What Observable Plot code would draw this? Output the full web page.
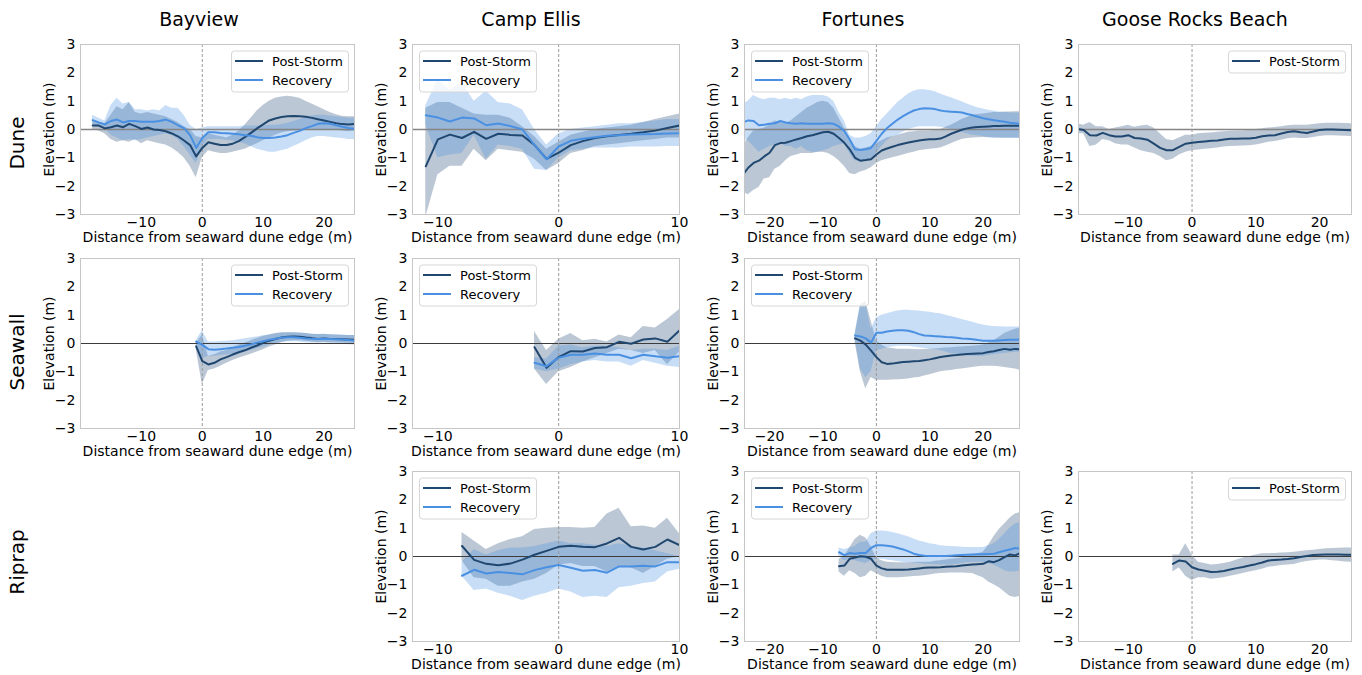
<!DOCTYPE html>
<html><head><meta charset="utf-8">
<script src="https://cdn.jsdelivr.net/npm/d3@7"></script>
<script src="https://cdn.jsdelivr.net/npm/@observablehq/plot@0.6"></script>
<style>
body{margin:0;background:#fff;font-family:"DejaVu Sans",sans-serif;}
#root{position:relative;width:1362px;height:675px;overflow:hidden;background:#fff;}
#root svg{position:absolute;}
</style></head><body><div id="root"></div>
<script>
// ---------- labels ----------
const sites = ["Bayview", "Camp Ellis", "Fortunes", "Goose Rocks Beach"];
const types = ["Dune", "Seawall", "Riprap"];
const seriesNames = ["Post-Storm", "Recovery"];
const yTicks = [-3, -2, -1, 0, 1, 2, 3];
const xTicksBay = [-10, 0, 10, 20];
const xTicksEllis = [-10, 0, 10];
const xTicksFort = [-20, -10, 0, 10, 20];
const xTicksGoose = [-10, 0, 10, 20];

// ---------- Bayview / Dune (x = -18..25) ----------
const bayDuneX = d3.range(-18, 26);
const bayDunePost = [0.14,0.14,0.04,0.08,0.14,0.08,0.2,0.12,0.02,0.07,0.0,-0.02,-0.06,-0.14,-0.24,-0.39,-0.55,-0.95,-0.65,-0.45,-0.5,-0.55,-0.55,-0.5,-0.41,-0.27,-0.12,0.04,0.18,0.32,0.39,0.44,0.47,0.48,0.47,0.45,0.41,0.36,0.32,0.27,0.22,0.19,0.18,0.2];
const bayDunePostHi = [0.3,0.25,0.2,0.5,0.8,0.7,0.95,0.6,0.55,0.6,0.55,0.5,0.45,0.35,0.25,0.1,0.0,-0.25,-0.3,-0.15,-0.2,-0.25,-0.3,-0.2,-0.05,0.15,0.4,0.65,0.85,1.0,1.1,1.15,1.17,1.15,1.1,1.0,0.9,0.8,0.7,0.6,0.52,0.47,0.45,0.45];
const bayDunePostLo = [0.0,-0.05,-0.15,-0.35,-0.45,-0.4,-0.45,-0.35,-0.5,-0.4,-0.45,-0.5,-0.55,-0.65,-0.8,-1.0,-1.3,-1.7,-1.0,-0.75,-0.8,-0.85,-0.85,-0.8,-0.75,-0.7,-0.6,-0.5,-0.4,-0.3,-0.2,-0.12,-0.08,-0.05,-0.05,-0.03,-0.02,0.0,0.0,0.0,-0.02,-0.05,-0.08,-0.05];
const bayDuneRec = [0.33,0.25,0.18,0.3,0.35,0.25,0.3,0.3,0.27,0.27,0.27,0.3,0.35,0.27,0.15,0.05,-0.2,-0.65,-0.3,-0.1,-0.1,-0.12,-0.13,-0.15,-0.17,-0.2,-0.22,-0.27,-0.3,-0.3,-0.28,-0.25,-0.2,-0.12,-0.05,0.05,0.12,0.2,0.22,0.2,0.15,0.1,0.05,0.02];
const bayDuneRecHi = [0.5,0.4,0.3,0.85,1.1,0.9,0.95,0.7,0.7,0.65,0.7,0.65,0.85,0.75,0.75,0.5,0.15,0.0,0.05,0.1,0.1,0.1,0.1,0.1,0.1,0.12,0.12,0.12,0.12,0.15,0.15,0.18,0.22,0.28,0.35,0.42,0.48,0.5,0.5,0.48,0.45,0.42,0.4,0.4];
const bayDuneRecLo = [0.15,0.1,0.05,-0.2,-0.3,-0.4,-0.35,-0.4,-0.35,-0.3,-0.25,-0.2,-0.15,-0.2,-0.35,-0.6,-0.9,-1.2,-0.6,-0.35,-0.35,-0.35,-0.38,-0.4,-0.45,-0.5,-0.6,-0.7,-0.75,-0.8,-0.8,-0.75,-0.7,-0.6,-0.5,-0.4,-0.3,-0.25,-0.25,-0.27,-0.3,-0.32,-0.35,-0.35];

// ---------- Camp Ellis / Dune (x = -11..10) ----------
const ellisDuneX = d3.range(-11, 11);
const ellisDunePost = [-1.3,-0.35,-0.18,-0.3,-0.08,-0.33,-0.15,-0.19,-0.21,-0.55,-1.04,-0.82,-0.55,-0.41,-0.3,-0.24,-0.19,-0.15,-0.1,-0.04,0.05,0.14];
const ellisDunePostHi = [0.75,0.95,0.95,0.75,0.55,0.5,0.5,0.4,0.1,-0.25,-0.7,-0.45,-0.2,-0.1,0.0,0.05,0.1,0.15,0.25,0.35,0.45,0.55];
const ellisDunePostLo = [-3.1,-1.6,-1.3,-1.3,-0.7,-1.1,-0.7,-0.75,-0.8,-1.05,-1.45,-1.2,-0.85,-0.75,-0.6,-0.55,-0.5,-0.45,-0.4,-0.35,-0.3,-0.3];
const ellisDuneRec = [0.5,0.42,0.28,0.42,0.39,0.15,0.21,0.12,0.0,-0.55,-1.05,-0.6,-0.4,-0.33,-0.27,-0.22,-0.2,-0.18,-0.17,-0.16,-0.14,-0.13];
const ellisDuneRecHi = [0.85,1.75,1.4,1.65,1.0,1.35,0.95,0.9,0.7,0.0,-0.55,-0.15,0.0,0.05,0.1,0.15,0.2,0.2,0.25,0.3,0.35,0.35];
const ellisDuneRecLo = [0.15,-1.0,-0.9,-0.85,-0.2,-1.05,-0.55,-0.6,-0.7,-1.4,-1.45,-1.0,-0.75,-0.7,-0.65,-0.65,-0.65,-0.62,-0.62,-0.62,-0.6,-0.6];

// ---------- Fortunes / Dune (x = -25..27) ----------
const fortDuneX = d3.range(-25, 28);
const fortDunePost = [-1.6,-1.35,-1.18,-1.1,-0.95,-0.82,-0.55,-0.48,-0.47,-0.41,-0.35,-0.3,-0.24,-0.2,-0.15,-0.1,-0.08,-0.15,-0.3,-0.47,-0.7,-1.0,-1.1,-1.08,-1.05,-0.88,-0.74,-0.67,-0.61,-0.55,-0.5,-0.46,-0.42,-0.39,-0.36,-0.34,-0.34,-0.32,-0.24,-0.15,-0.08,-0.01,0.04,0.07,0.09,0.1,0.11,0.12,0.12,0.13,0.13,0.13,0.13];
const fortDunePostHi = [-0.6,-0.3,-0.05,0.0,0.05,0.15,0.3,0.25,0.2,0.3,0.45,0.6,0.75,0.85,0.95,1.0,0.95,0.75,0.4,0.05,-0.3,-0.6,-0.7,-0.65,-0.6,-0.5,-0.4,-0.3,-0.25,-0.2,-0.15,-0.1,-0.08,-0.05,-0.05,-0.05,-0.03,0.0,0.08,0.15,0.25,0.35,0.42,0.5,0.53,0.55,0.57,0.6,0.6,0.62,0.62,0.63,0.63];
const fortDunePostLo = [-2.2,-2.3,-2.15,-2.05,-1.75,-1.7,-1.4,-1.3,-1.1,-0.95,-0.9,-0.85,-0.85,-0.85,-0.8,-0.8,-0.85,-0.95,-1.1,-1.3,-1.55,-1.6,-1.5,-1.45,-1.35,-1.2,-1.1,-1.05,-1.0,-0.95,-0.9,-0.85,-0.8,-0.75,-0.72,-0.7,-0.68,-0.65,-0.58,-0.5,-0.42,-0.35,-0.32,-0.3,-0.29,-0.28,-0.29,-0.3,-0.3,-0.3,-0.3,-0.3,-0.3];
const fortDuneRec = [0.25,0.32,0.3,0.15,0.17,0.2,0.22,0.3,0.25,0.22,0.2,0.22,0.2,0.2,0.2,0.2,0.22,0.2,0.1,-0.05,-0.35,-0.7,-0.72,-0.7,-0.65,-0.4,-0.15,0.05,0.2,0.35,0.47,0.58,0.67,0.72,0.75,0.74,0.72,0.67,0.64,0.63,0.62,0.6,0.55,0.5,0.45,0.4,0.36,0.33,0.3,0.27,0.24,0.22,0.2];
const fortDuneRecHi = [0.9,1.0,1.2,1.1,1.05,1.1,1.1,1.05,1.1,1.05,1.1,1.05,1.15,1.2,1.2,1.2,1.15,1.0,0.6,0.3,-0.2,-0.3,-0.3,-0.25,-0.15,0.1,0.35,0.55,0.75,0.95,1.1,1.25,1.35,1.4,1.4,1.38,1.33,1.25,1.18,1.12,1.05,0.98,0.9,0.83,0.77,0.72,0.68,0.65,0.62,0.6,0.59,0.58,0.58];
const fortDuneRecLo = [-0.35,-0.4,-0.6,-0.8,-0.7,-0.6,-0.55,-0.5,-0.6,-0.6,-0.7,-0.6,-0.75,-0.8,-0.8,-0.75,-0.7,-0.6,-0.55,-0.5,-0.85,-1.1,-1.15,-1.1,-1.05,-0.85,-0.6,-0.4,-0.25,-0.2,-0.1,0.0,0.05,0.1,0.1,0.1,0.1,0.08,0.05,0.0,-0.05,-0.1,-0.15,-0.2,-0.22,-0.25,-0.28,-0.3,-0.31,-0.32,-0.32,-0.32,-0.32];

// ---------- Goose Rocks Beach / Dune (x = -18..25) ----------
const gooseDuneX = d3.range(-18, 26);
const gooseDunePost = [0.02,-0.02,-0.2,-0.21,-0.12,-0.2,-0.25,-0.25,-0.2,-0.3,-0.32,-0.36,-0.5,-0.65,-0.73,-0.73,-0.61,-0.5,-0.47,-0.44,-0.42,-0.4,-0.39,-0.35,-0.33,-0.33,-0.32,-0.32,-0.29,-0.24,-0.21,-0.2,-0.14,-0.09,-0.06,-0.1,-0.12,-0.07,-0.02,0.0,0.0,-0.01,-0.02,-0.03];
const gooseDunePostHi = [0.2,0.15,0.25,0.1,0.1,0.0,0.05,0.1,0.15,0.08,0.12,0.15,0.05,-0.15,-0.35,-0.4,-0.3,-0.2,-0.2,-0.15,-0.13,-0.12,-0.1,-0.08,-0.06,-0.05,-0.05,-0.03,0.0,0.03,0.05,0.07,0.1,0.13,0.15,0.15,0.15,0.18,0.2,0.22,0.22,0.22,0.21,0.2];
const gooseDunePostLo = [-0.15,-0.15,-0.6,-0.55,-0.35,-0.4,-0.5,-0.55,-0.55,-0.65,-0.75,-0.8,-0.85,-0.95,-1.1,-1.05,-0.9,-0.8,-0.75,-0.72,-0.7,-0.68,-0.65,-0.62,-0.6,-0.59,-0.58,-0.57,-0.55,-0.5,-0.45,-0.42,-0.38,-0.33,-0.3,-0.32,-0.32,-0.28,-0.25,-0.22,-0.22,-0.23,-0.24,-0.25];

// ---------- Bayview / Seawall (x = -1..25) ----------
const baySeaX = d3.range(-1, 26);
const baySeaPost = [-0.1,-0.62,-0.74,-0.68,-0.56,-0.48,-0.39,-0.31,-0.24,-0.15,-0.07,0.02,0.1,0.16,0.21,0.24,0.25,0.24,0.21,0.19,0.16,0.18,0.16,0.16,0.15,0.14,0.13];
const baySeaPostHi = [0.0,0.3,-0.45,-0.4,-0.3,-0.25,-0.15,-0.05,0.02,0.1,0.18,0.25,0.3,0.35,0.38,0.38,0.38,0.37,0.35,0.33,0.32,0.33,0.31,0.3,0.29,0.28,0.28];
const baySeaPostLo = [-0.2,-1.45,-0.95,-0.9,-0.8,-0.7,-0.6,-0.52,-0.45,-0.38,-0.3,-0.22,-0.12,-0.05,0.03,0.08,0.1,0.1,0.08,0.05,0.03,0.04,0.03,0.03,0.02,0.01,0.0];
const baySeaRec = [0.07,-0.05,-0.2,-0.22,-0.2,-0.18,-0.15,-0.12,-0.08,-0.03,0.03,0.08,0.13,0.17,0.2,0.22,0.22,0.2,0.18,0.17,0.16,0.17,0.16,0.15,0.14,0.12,0.1];
const baySeaRecHi = [0.1,0.45,0.05,0.05,0.07,0.08,0.1,0.13,0.17,0.2,0.23,0.27,0.3,0.33,0.36,0.38,0.38,0.37,0.35,0.33,0.32,0.32,0.31,0.3,0.29,0.28,0.28];
const baySeaRecLo = [0.0,-0.55,-0.45,-0.45,-0.42,-0.4,-0.38,-0.35,-0.3,-0.25,-0.18,-0.12,-0.05,0.0,0.04,0.06,0.06,0.05,0.03,0.02,0.02,0.02,0.01,0.0,-0.02,-0.04,-0.05];

// ---------- Camp Ellis / Seawall (x = -2..10) ----------
const ellisSeaX = d3.range(-2, 11);
const ellisSeaPost = [-0.13,-0.86,-0.48,-0.27,-0.28,-0.16,-0.13,0.06,-0.01,0.14,0.18,0.06,0.46];
const ellisSeaPostHi = [0.42,-0.25,0.15,0.35,0.1,0.15,0.05,0.3,0.2,0.6,0.55,0.85,1.2];
const ellisSeaPostLo = [-0.9,-1.45,-1.0,-0.85,-0.65,-0.5,-0.35,-0.2,-0.25,-0.35,-0.25,-0.75,-0.3];
const ellisSeaRec = [-0.68,-0.8,-0.5,-0.4,-0.4,-0.35,-0.4,-0.4,-0.52,-0.4,-0.45,-0.5,-0.45];
const ellisSeaRecHi = [-0.5,-0.55,-0.1,-0.05,-0.15,-0.1,-0.1,-0.15,-0.25,-0.2,-0.2,-0.25,-0.1];
const ellisSeaRecLo = [-0.9,-1.0,-0.9,-0.75,-0.65,-0.6,-0.65,-0.65,-0.8,-0.6,-0.7,-0.8,-0.85];

// ---------- Fortunes / Seawall (x = -4..27) ----------
const fortSeaX = d3.range(-4, 28);
const fortSeaPost = [0.18,0.1,-0.04,-0.25,-0.48,-0.66,-0.72,-0.71,-0.68,-0.65,-0.64,-0.63,-0.62,-0.59,-0.56,-0.52,-0.48,-0.45,-0.42,-0.41,-0.39,-0.37,-0.36,-0.35,-0.34,-0.3,-0.27,-0.23,-0.19,-0.22,-0.19,-0.21];
const fortSeaPostHi = [0.3,1.3,1.5,0.8,0.1,-0.05,-0.15,-0.18,-0.2,-0.2,-0.2,-0.21,-0.22,-0.21,-0.2,-0.19,-0.18,-0.16,-0.15,-0.13,-0.12,-0.11,-0.1,-0.08,-0.05,0.02,0.1,0.22,0.35,0.43,0.5,0.55];
const fortSeaPostLo = [0.05,-1.0,-1.6,-1.2,-1.3,-1.3,-1.3,-1.29,-1.28,-1.27,-1.25,-1.22,-1.2,-1.15,-1.1,-1.05,-1.0,-0.97,-0.95,-0.92,-0.9,-0.87,-0.85,-0.82,-0.8,-0.8,-0.8,-0.82,-0.85,-0.87,-0.9,-0.95];
const fortSeaRec = [0.28,0.25,0.18,0.03,0.38,0.38,0.42,0.45,0.47,0.47,0.45,0.4,0.33,0.28,0.27,0.26,0.25,0.23,0.22,0.2,0.18,0.17,0.15,0.12,0.1,0.1,0.1,0.11,0.12,0.13,0.13,0.14];
const fortSeaRecHi = [0.35,1.4,1.45,0.5,0.9,1.0,1.05,1.1,1.15,1.17,1.17,1.16,1.15,1.12,1.1,1.07,1.05,1.0,0.95,0.9,0.85,0.8,0.75,0.7,0.65,0.62,0.6,0.59,0.58,0.58,0.58,0.58];
const fortSeaRecLo = [0.2,-0.9,-1.2,-1.0,-0.25,-0.2,-0.15,-0.12,-0.1,-0.1,-0.1,-0.12,-0.15,-0.18,-0.2,-0.22,-0.25,-0.3,-0.35,-0.38,-0.4,-0.43,-0.45,-0.45,-0.45,-0.42,-0.4,-0.37,-0.35,-0.33,-0.31,-0.3];

// ---------- Camp Ellis / Riprap (x = -8..10) ----------
const ellisRipX = d3.range(-8, 11);
const ellisRipPost = [0.37,-0.12,-0.26,-0.31,-0.25,-0.11,0.06,0.2,0.34,0.38,0.34,0.33,0.46,0.66,0.34,0.25,0.34,0.6,0.4];
const ellisRipPostHi = [0.85,0.55,0.25,0.45,0.6,0.7,0.95,1.0,1.02,1.02,1.0,1.02,1.5,1.7,1.05,1.08,1.0,1.35,0.8];
const ellisRipPostLo = [-0.15,-0.75,-0.8,-1.05,-1.05,-0.9,-0.8,-0.6,-0.3,-0.25,-0.35,-0.35,-0.55,-0.35,-0.4,-0.6,-0.35,-0.1,0.0];
const ellisRipRec = [-0.68,-0.47,-0.6,-0.55,-0.58,-0.63,-0.48,-0.38,-0.3,-0.4,-0.5,-0.48,-0.57,-0.35,-0.35,-0.33,-0.35,-0.2,-0.2];
const ellisRipRecHi = [-0.2,0.25,0.05,0.2,0.3,0.3,0.35,0.45,0.55,0.45,0.45,0.4,0.35,0.45,0.35,0.3,0.2,0.1,0.0];
const ellisRipRecLo = [-0.7,-1.2,-1.15,-1.3,-1.4,-1.55,-1.4,-1.3,-1.15,-1.25,-1.45,-1.4,-1.45,-1.1,-1.05,-0.95,-0.9,-0.55,-0.45];

// ---------- Fortunes / Riprap (x = -7..27) ----------
const fortRipX = d3.range(-7, 28);
const fortRipPost = [-0.34,-0.32,-0.08,-0.04,0.01,-0.01,-0.08,-0.32,-0.42,-0.47,-0.47,-0.47,-0.47,-0.46,-0.44,-0.42,-0.4,-0.39,-0.39,-0.38,-0.36,-0.35,-0.34,-0.32,-0.3,-0.28,-0.27,-0.26,-0.17,-0.2,-0.13,-0.02,0.07,0.04,0.13];
const fortRipPostHi = [-0.1,0.0,0.3,0.6,0.75,0.65,0.35,-0.05,-0.15,-0.2,-0.21,-0.22,-0.22,-0.22,-0.21,-0.2,-0.2,-0.2,-0.17,-0.15,-0.12,-0.1,-0.08,-0.05,0.0,0.05,0.1,0.15,0.4,0.7,0.95,1.15,1.35,1.5,1.55];
const fortRipPostLo = [-0.55,-0.7,-0.5,-0.6,-0.75,-0.7,-0.5,-0.6,-0.7,-0.75,-0.75,-0.75,-0.74,-0.72,-0.71,-0.7,-0.68,-0.65,-0.62,-0.6,-0.59,-0.58,-0.58,-0.58,-0.59,-0.6,-0.68,-0.75,-0.9,-1.0,-1.1,-1.25,-1.4,-1.45,-1.4];
const fortRipRec = [0.15,0.05,0.12,0.1,0.12,0.12,0.3,0.4,0.4,0.38,0.35,0.3,0.25,0.18,0.1,0.05,0.03,0.02,0.02,0.02,0.02,0.03,0.04,0.05,0.06,0.07,0.08,0.08,0.09,0.1,0.15,0.2,0.25,0.3,0.27];
const fortRipRecHi = [0.3,0.25,0.3,0.35,0.5,0.5,0.8,0.9,0.9,0.88,0.85,0.8,0.75,0.7,0.62,0.55,0.5,0.45,0.42,0.38,0.36,0.35,0.34,0.33,0.32,0.32,0.32,0.32,0.38,0.45,0.6,0.8,1.0,1.15,1.2];
const fortRipRecLo = [0.0,-0.15,-0.1,-0.15,-0.2,-0.25,-0.15,-0.1,-0.1,-0.12,-0.15,-0.18,-0.2,-0.22,-0.23,-0.25,-0.27,-0.28,-0.29,-0.3,-0.3,-0.3,-0.28,-0.25,-0.22,-0.2,-0.2,-0.2,-0.25,-0.3,-0.4,-0.5,-0.55,-0.55,-0.5];

// ---------- Goose Rocks Beach / Riprap (x = -3..25) ----------
const gooseRipX = d3.range(-3, 26);
const gooseRipPost = [-0.26,-0.14,-0.18,-0.38,-0.46,-0.5,-0.55,-0.54,-0.51,-0.46,-0.41,-0.37,-0.32,-0.27,-0.21,-0.14,-0.12,-0.11,-0.09,-0.06,-0.02,0.02,0.05,0.06,0.07,0.07,0.07,0.06,0.06];
const gooseRipPostHi = [0.05,0.05,0.45,0.05,-0.2,-0.25,-0.3,-0.28,-0.25,-0.2,-0.12,-0.05,0.0,0.05,0.1,0.1,0.11,0.12,0.13,0.15,0.18,0.2,0.22,0.25,0.27,0.28,0.29,0.3,0.3];
const gooseRipPostLo = [-0.55,-0.4,-0.7,-0.85,-0.75,-0.75,-0.8,-0.78,-0.75,-0.7,-0.65,-0.6,-0.55,-0.5,-0.45,-0.38,-0.35,-0.32,-0.3,-0.28,-0.22,-0.18,-0.15,-0.12,-0.12,-0.15,-0.17,-0.19,-0.2];

// ---------- styling / layout ----------
const POST = "#1f4770";
const REC = "#4a90e2";
const FONT = "DejaVu Sans, sans-serif";
const COLS = [{l: 80, r: 354, dom: [-20, 25], ticks: xTicksBay},
              {l: 412, r: 679, dom: [-12.1, 10], ticks: xTicksEllis},
              {l: 744, r: 1019, dom: [-24.7, 26.8], ticks: xTicksFort},
              {l: 1078, r: 1351, dom: [-17.8, 25], ticks: xTicksGoose}];
const ROWS = [{t: 43.5, b: 213.5}, {t: 257.5, b: 427.5}, {t: 470.5, b: 640.5}];
const fmt = d => d < 0 ? "\u2212" + Math.abs(d) : String(d);
const root = document.getElementById("root");

const panels = [
  {c: 0, r: 0, X: bayDuneX, post: bayDunePost, postLo: bayDunePostLo, postHi: bayDunePostHi, rec: bayDuneRec, recLo: bayDuneRecLo, recHi: bayDuneRecHi, leg: "right"},
  {c: 1, r: 0, X: ellisDuneX, post: ellisDunePost, postLo: ellisDunePostLo, postHi: ellisDunePostHi, rec: ellisDuneRec, recLo: ellisDuneRecLo, recHi: ellisDuneRecHi, leg: "left"},
  {c: 2, r: 0, X: fortDuneX, post: fortDunePost, postLo: fortDunePostLo, postHi: fortDunePostHi, rec: fortDuneRec, recLo: fortDuneRecLo, recHi: fortDuneRecHi, leg: "left"},
  {c: 3, r: 0, X: gooseDuneX, post: gooseDunePost, postLo: gooseDunePostLo, postHi: gooseDunePostHi, leg: "right"},
  {c: 0, r: 1, X: baySeaX, post: baySeaPost, postLo: baySeaPostLo, postHi: baySeaPostHi, rec: baySeaRec, recLo: baySeaRecLo, recHi: baySeaRecHi, leg: "right"},
  {c: 1, r: 1, X: ellisSeaX, post: ellisSeaPost, postLo: ellisSeaPostLo, postHi: ellisSeaPostHi, rec: ellisSeaRec, recLo: ellisSeaRecLo, recHi: ellisSeaRecHi, leg: "left"},
  {c: 2, r: 1, X: fortSeaX, post: fortSeaPost, postLo: fortSeaPostLo, postHi: fortSeaPostHi, rec: fortSeaRec, recLo: fortSeaRecLo, recHi: fortSeaRecHi, leg: "left"},
  {c: 1, r: 2, X: ellisRipX, post: ellisRipPost, postLo: ellisRipPostLo, postHi: ellisRipPostHi, rec: ellisRipRec, recLo: ellisRipRecLo, recHi: ellisRipRecHi, leg: "left"},
  {c: 2, r: 2, X: fortRipX, post: fortRipPost, postLo: fortRipPostLo, postHi: fortRipPostHi, rec: fortRipRec, recLo: fortRipRecLo, recHi: fortRipRecHi, leg: "left"},
  {c: 3, r: 2, X: gooseRipX, post: gooseRipPost, postLo: gooseRipPostLo, postHi: gooseRipPostHi, leg: "right"}
];

const mL = 70, mR = 8, mT = 4, mB = 34;
for (const p of panels) {
  const col = COLS[p.c], row = ROWS[p.r];
  const fw = col.r - col.l, fh = row.b - row.t;
  const data = p.X.map((x, i) => ({
    x, post: p.post[i], postLo: p.postLo[i], postHi: p.postHi[i],
    rec: p.rec ? p.rec[i] : null, recLo: p.rec ? p.recLo[i] : null, recHi: p.rec ? p.recHi[i] : null
  }));
  const marks = [
    Plot.areaY(data, {x: "x", y1: "postLo", y2: "postHi", fill: POST, fillOpacity: 0.3, clip: true})
  ];
  if (p.rec) marks.push(Plot.areaY(data, {x: "x", y1: "recLo", y2: "recHi", fill: REC, fillOpacity: 0.3, clip: true}));
  marks.push(Plot.ruleY([0], p.r === 0 ? {stroke: "#858585", strokeWidth: 1.6} : {stroke: "#3c3c3c", strokeWidth: 1}));
  marks.push(Plot.ruleX([0], {stroke: "#9a9a9a", strokeWidth: 1, strokeDasharray: "3,2"}));
  marks.push(Plot.lineY(data, {x: "x", y: "post", stroke: POST, strokeWidth: 2, clip: true}));
  if (p.rec) marks.push(Plot.lineY(data, {x: "x", y: "rec", stroke: REC, strokeWidth: 2, clip: true}));
  marks.push(Plot.frame({stroke: "#c6c6c6", strokeWidth: 1}));
  marks.push(Plot.axisX({ticks: col.ticks, tickSize: 0, tickPadding: 3, tickFormat: fmt, label: null, fontSize: 14}));
  marks.push(Plot.axisY({ticks: yTicks, tickSize: 0, tickPadding: 5, tickFormat: fmt, label: null, fontSize: 14}));
  marks.push(Plot.text(["Elevation (m)"], {frameAnchor: "left", dx: -31, rotate: -90, textAnchor: "middle", lineAnchor: "middle", fontSize: 14, fill: "#000"}));
  marks.push(Plot.text(["Distance from seaward dune edge (m)"], {frameAnchor: "bottom", dy: 22.8, textAnchor: "middle", lineAnchor: "middle", fontSize: 14, fill: "#000"}));
  const svg = Plot.plot({
    width: fw + mL + mR, height: fh + mT + mB,
    marginLeft: mL, marginRight: mR, marginTop: mT, marginBottom: mB,
    x: {domain: col.dom}, y: {domain: [-3, 3]},
    style: {fontFamily: FONT, fontSize: "14px", color: "#000", background: "transparent", overflow: "visible"},
    marks
  });
  svg.style.left = (col.l - mL) + "px";
  svg.style.top = (row.t - mT) + "px";
  root.appendChild(svg);
}

// ---------- overlay: titles, row labels, legends ----------
const NS = "http://www.w3.org/2000/svg";
const ov = document.createElementNS(NS, "svg");
ov.setAttribute("width", 1362); ov.setAttribute("height", 675);
ov.style.left = "0px"; ov.style.top = "0px"; ov.style.fontFamily = FONT;
root.appendChild(ov);
function el(tag, attrs, text) {
  const e = document.createElementNS(NS, tag);
  for (const k in attrs) e.setAttribute(k, attrs[k]);
  if (text != null) e.textContent = text;
  ov.appendChild(e);
  return e;
}
sites.forEach((s, i) => el("text", {x: 199 + 332 * i, y: 26, "text-anchor": "middle", "font-size": 19, fill: "#000"}, s));
const rowY = [143, 352, 562];
types.forEach((t, i) => el("text", {transform: `translate(24,${rowY[i]}) rotate(-90)`, "text-anchor": "middle", "font-size": 20, fill: "#000"}, t));

for (const p of panels) {
  const col = COLS[p.c], row = ROWS[p.r];
  const n = p.rec ? 2 : 1;
  const w = 117, h = n === 2 ? 41 : 22;
  const bx = p.leg === "left" ? col.l + 7 : col.r - 6 - w;
  const by = row.t + 7;
  el("rect", {x: bx + 0.5, y: by + 0.5, width: w, height: h, rx: 3, fill: "rgba(255,255,255,0.8)", stroke: "#d6d6d6", "stroke-width": 1});
  const cols = [POST, REC];
  for (let k = 0; k < n; k++) {
    const cy = by + 10.5 + 19 * k;
    el("line", {x1: bx + 4, x2: bx + 32, y1: cy, y2: cy, stroke: cols[k], "stroke-width": 2});
    el("text", {x: bx + 41, y: cy, "dominant-baseline": "central", "font-size": 13, fill: "#000"}, seriesNames[k]);
  }
}
</script></body></html>
